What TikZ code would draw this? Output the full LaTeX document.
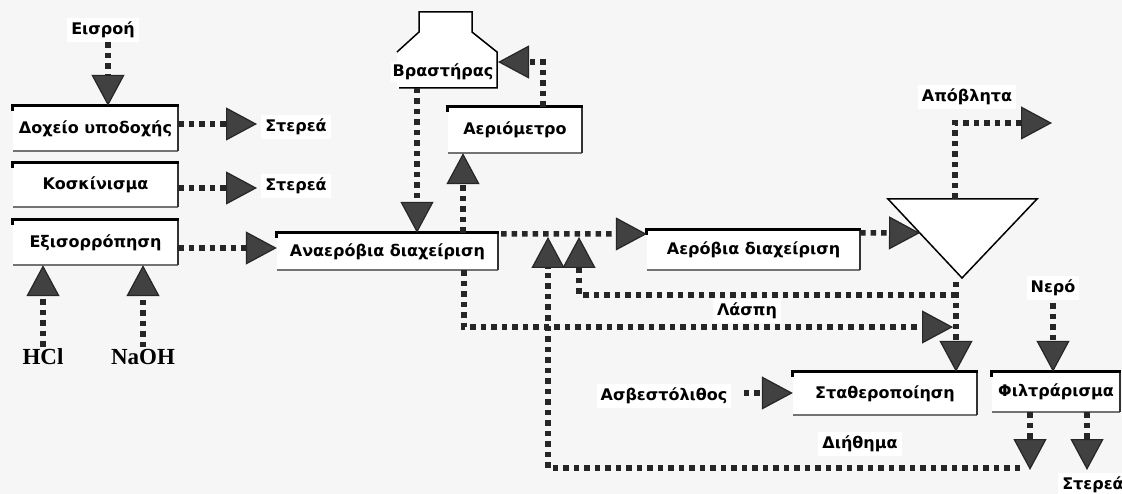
\documentclass[tikz,border=0pt]{standalone}
\usepackage{fontspec}
\setmainfont{DejaVu Sans}
\newfontfamily\chemfont{Liberation Serif}
\usetikzlibrary{arrows.meta}

\definecolor{paper}{RGB}{246,246,246}
\definecolor{tipfill}{RGB}{65,65,65}
\definecolor{edgegray}{RGB}{115,115,115}

\tikzset{
  flow/.style={line width=5.5pt, dash pattern=on 5.5pt off 5pt, draw=black!85,
    -{Triangle[length=31pt,width=33pt,line width=1.2pt,fill=tipfill]}},
  txt/.style={font=\bfseries\fontsize{16}{19}\selectfont},
  lbl/.style={txt, fill=white, inner sep=4pt},
  chem/.style={font=\chemfont\bfseries\fontsize{23}{26}\selectfont, inner sep=2pt},
  proc/.style={txt, fill=white, inner sep=0pt},
  boxtop/.style={line width=3pt, draw=black},
  boxside/.style={line width=2.4pt, draw=black!80},
  boxbottom/.style={line width=1.8pt, draw=edgegray},
  shape line/.style={line width=1.5pt, draw=black}
}

\begin{document}
\begin{tikzpicture}[x=1pt,y=-1pt]
  \fill[paper] (0,0) rectangle (1122,494);
  \useasboundingbox (0,0) rectangle (1122,494);

  % process boxes
  \node[proc, minimum width=165pt, minimum height=45pt] (b1) at (95.5,128.5) {Δοχείο υποδοχής};
  \node[proc, minimum width=165pt, minimum height=44pt] (b2) at (95.5,185) {Κοσκίνισμα};
  \node[proc, minimum width=165pt, minimum height=45pt] (b3) at (95.5,242.5) {Εξισορρόπηση};
  \node[proc, minimum width=221pt, minimum height=37pt] (anaer) at (387.5,251.5) {Αναερόβια διαχείριση};
  \node[proc, minimum width=134pt, minimum height=46pt] (gasm) at (515,130) {Αεριόμετρο};
  \node[proc, minimum width=213pt, minimum height=40pt] (aerob) at (753.5,250) {Αερόβια διαχείριση};
  \node[proc, minimum width=184pt, minimum height=43pt] (stab) at (885,393.5) {Σταθεροποίηση};
  \node[proc, minimum width=128pt, minimum height=40pt] (filt) at (1056,392) {Φιλτράρισμα};

  \foreach \n in {b1,b2,b3,anaer,gasm,aerob,stab,filt} {
    \draw[boxbottom] (\n.south west) -- (\n.south east);
    \draw[boxside] ([yshift=-1pt]\n.north east) -- (\n.south east);
    \draw[boxtop] ([yshift=-5pt]\n.north west) -- (\n.north west) -- ([xshift=1pt]\n.north east);
  }

  % boiler
  \fill[white] (397,52) -- (419,32) -- (419,12) -- (472,12) -- (472,32) -- (497,52) -- (497,88) -- (397,88) -- cycle;
  \draw[shape line] (397,52) -- (419,32) -- (419,12) -- (472,12) -- (472,32) -- (497,52) -- (497,88) -- (399,88);
  \coordinate (boilB) at (417,88);
  \coordinate (boilR) at (498,62);
  \node[txt, fill=white, inner sep=2pt] (boil) at (443,72) {Βραστήρας};

  % settling tank
  \coordinate (setL) at (888,199);
  \coordinate (setR) at (1037,199);
  \coordinate (setA) at (962,278);
  \fill[white] (setL) -- (setR) -- (setA) -- cycle;
  \draw[shape line, line join=miter] (setL) -- (setR) -- (setA) -- cycle;
  \coordinate (setTop) at (955,199);
  \coordinate (setBot) at (956,282);
  \coordinate (setIn) at (920,233);

  % labels
  \node[lbl] (in) at (103,30) {Εισροή};
  \node[lbl] (s1) at (296,127) {Στερεά};
  \node[lbl] (s2) at (296,186) {Στερεά};
  \node[chem] (hcl) at (43,357) {HCl};
  \node[chem] (naoh) at (143,357) {NaOH};
  \node[lbl] (waste) at (967,97) {Απόβλητα};
  \node[lbl] (sludge) at (747,311) {Λάσπη};
  \node[lbl] (water) at (1053,288) {Νερό};
  \node[lbl] (lime) at (664,396) {Ασβεστόλιθος};
  \node[lbl] (filtrate) at (860,444) {Διήθημα};
  \node[lbl] (s3) at (1093,485) {Στερεά};

  % junctions of the return lines
  \coordinate (wasteOut) at (1052,123);
  \coordinate (sjA) at (956,295);
  \coordinate (retA) at (579,237);
  \coordinate (sjB) at (953,327);
  \coordinate (fd1) at (1030,470);
  \coordinate (fd2) at (1087,470);
  \coordinate (retStart) at (1020,468);
  \coordinate (retB) at (548,237);

  % connectors
  \draw[flow] ([xshift=5pt]in.south) -- ([xshift=5pt]in.south |- b1.north);
  \draw[flow] (b1.east |- 0,124) -- (257,124);
  \draw[flow] (b2.east |- 0,188) -- (257,188);
  \draw[flow] (b3.east |- 0,248) -- (anaer.west |- 0,248);
  \draw[flow] (hcl.north) -- (hcl.north |- b3.south);
  \draw[flow] (naoh.north) -- (naoh.north |- b3.south);
  \draw[flow] (boilB) -- (boilB |- anaer.north);
  \draw[flow] ([xshift=75.5pt]anaer.north) -- ([xshift=-52pt]gasm.south);
  \draw[flow] ([xshift=28pt]gasm.north) |- (boilR);
  \draw[flow] ([xshift=3pt,yshift=-1pt]anaer.north east) -- (aerob.west |- 0,234);
  \draw[flow] ([yshift=-3pt]aerob.north east) -- (setIn);
  \draw[flow] (setTop) |- (wasteOut);
  \draw[flow] (setBot) -- (setBot |- stab.north);
  \draw[flow] (sjA) -| (retA);
  \draw[flow] ([xshift=76.5pt]anaer.south) |- (sjB);
  \draw[flow] ([xshift=-26pt]filt.south) -- (fd1);
  \draw[flow] ([xshift=31pt]filt.south) -- (fd2);
  \draw[flow] (retStart) -| (retB);
  \draw[flow] ([yshift=-3pt]water.south) -- (water.south |- filt.north);
  \draw[flow] ([xshift=12pt,yshift=3pt]lime.east) -- (stab.west |- 0,393);
\end{tikzpicture}
\end{document}
